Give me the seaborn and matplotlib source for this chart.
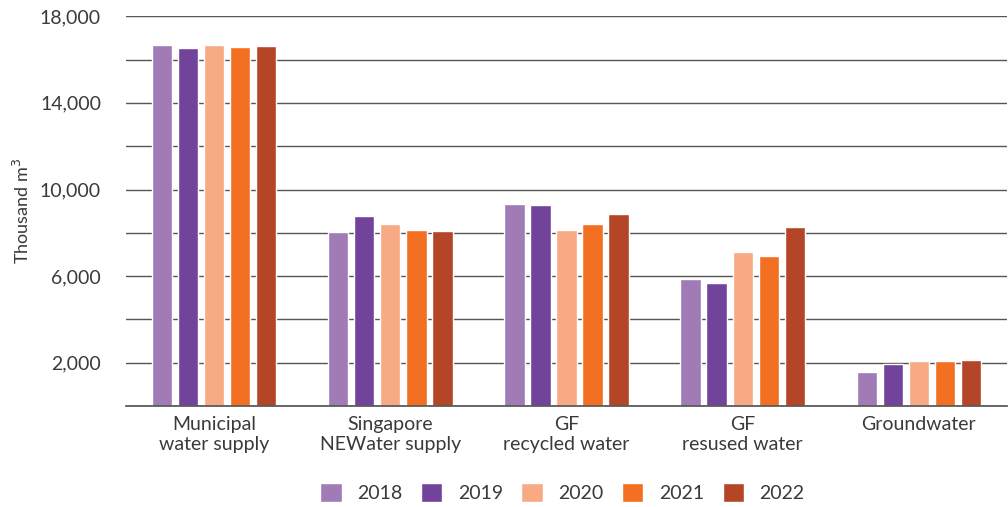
import pandas as pd
import seaborn as sns
import matplotlib.pyplot as plt

# water withdrawal by source, thousand m3
categories = ["Municipal\nwater supply", "Singapore\nNEWater supply", "GF\nrecycled water",
              "GF\nresused water", "Groundwater"]
years = ["2018", "2019", "2020", "2021", "2022"]
v2018 = [16690, 8030, 9340, 5850, 1580]
v2019 = [16520, 8780, 9290, 5680, 1950]
v2020 = [16670, 8430, 8120, 7120, 2090]
v2021 = [16570, 8120, 8430, 6950, 2090]
v2022 = [16610, 8080, 8890, 8260, 2150]
colors = ["#A07BB6", "#72439A", "#F8AA84", "#F37022", "#B54527"]

rows = []
for yr, vals in zip(years, [v2018, v2019, v2020, v2021, v2022]):
    for cat, v in zip(categories, vals):
        rows.append({"source": cat, "year": yr, "value": v})
df = pd.DataFrame(rows)

sns.set_theme(style="white")
plt.rcParams["font.family"] = ["Lato", "DejaVu Sans"]

txt = "#3a3a3a"
fig = plt.figure(figsize=(10.08, 5.07), dpi=100)
ax = fig.add_axes([0.125, 0.199, 0.874, 0.769])

sns.barplot(data=df, x="source", y="value", hue="year", palette=colors,
            width=0.74, gap=0.22, saturation=1, ax=ax, legend=True)

ax.set_ylim(0, 18000)
ax.set_xlim(-0.5, 4.5)
ticks = list(range(0, 18001, 2000))
ax.set_yticks(ticks)
ax.set_yticklabels(["" if t % 4000 == 0 else f"{t:,}" for t in ticks])
ax.yaxis.grid(True, color="#555555", linewidth=1)
ax.set_axisbelow(True)
for s in ["left", "right", "top"]:
    ax.spines[s].set_visible(False)
ax.spines["bottom"].set_color("#555555")
ax.tick_params(axis="both", length=0, labelsize=14, colors=txt)
ax.tick_params(axis="x", pad=7)
ax.tick_params(axis="y", pad=18)
ax.set_xlabel("")
ax.set_ylabel("Thousand m$^3$", fontsize=13, color=txt, labelpad=6)

handles, labels = ax.get_legend_handles_labels()
ax.get_legend().remove()
fig.legend(handles, labels, loc="lower center", bbox_to_anchor=(0.558, -0.025), ncol=5,
           frameon=False, fontsize=14, handlelength=1.1, handleheight=1.1,
           columnspacing=0.95, handletextpad=0.8, labelcolor=txt)

fig.savefig("out.png", dpi=100)
